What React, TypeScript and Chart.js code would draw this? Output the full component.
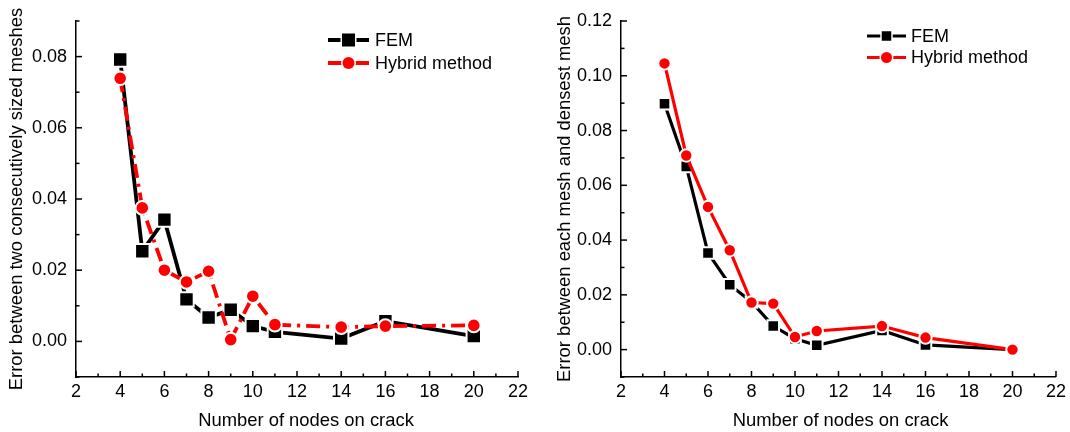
import React, { useEffect, useRef } from 'react';
import { Chart, registerables } from 'chart.js';

Chart.register(...registerables);

// ---------- data ----------
const nodes = [4, 5, 6, 7, 8, 9, 10, 11, 14, 16, 20];
const leftFem = [0.0792, 0.0253, 0.0342, 0.0118, 0.0067, 0.0089, 0.0043, 0.0027, 0.0008, 0.0057, 0.0015];
const leftHybrid = [0.0739, 0.0375, 0.02, 0.0167, 0.0197, 0.0005, 0.0127, 0.0047, 0.004, 0.0043, 0.0045];
const rightFem = [0.0898, 0.0669, 0.0353, 0.0237, 0.0174, 0.0086, 0.004, 0.0016, 0.007, 0.0017, 0.0];
const rightHybrid = [0.1045, 0.0709, 0.0521, 0.0363, 0.0172, 0.0168, 0.0046, 0.0068, 0.0086, 0.0044, 0.0];
const xTicks = [2, 4, 6, 8, 10, 12, 14, 16, 18, 20, 22];
const leftYTicks = [0, 0.02, 0.04, 0.06, 0.08];
const rightYTicks = [0, 0.02, 0.04, 0.06, 0.08, 0.1, 0.12];
const seriesNames = ['FEM', 'Hybrid method'];
const xTitle = 'Number of nodes on crack';
const leftYTitle = 'Error between two consecutively sized meshes';
const rightYTitle = 'Error between each mesh and densest mesh';

const FONT = '"Liberation Sans", Arial, Helvetica, sans-serif';

function minorList(majors: number[], min: number, max: number) {
  const out: number[] = [];
  const step = majors[1] - majors[0];
  const half = step / 2;
  for (let i = 0; i < majors.length - 1; i++) out.push(majors[i] + half);
  if (majors[0] - half >= min - 1e-9) out.push(majors[0] - half);
  if (majors[majors.length - 1] + half <= max + 1e-9) out.push(majors[majors.length - 1] + half);
  return out;
}

const decor = {
  id: 'decor',
  afterDraw(chart: any, _args: any, o: any) {
    const { ctx, chartArea, scales } = chart;
    const xs = scales.x;
    const ys = scales.y;
    ctx.save();
    ctx.strokeStyle = '#000';
    ctx.lineWidth = 1.5;
    // inward ticks
    const xMaj = xs.ticks.map((t: any) => t.value);
    const yMaj = ys.ticks.map((t: any) => t.value);
    const drawX = (v: number, len: number) => {
      const p = xs.getPixelForValue(v);
      ctx.beginPath();
      ctx.moveTo(p, chartArea.bottom);
      ctx.lineTo(p, chartArea.bottom - len);
      ctx.stroke();
    };
    const drawY = (v: number, len: number) => {
      const p = ys.getPixelForValue(v);
      ctx.beginPath();
      ctx.moveTo(chartArea.left, p);
      ctx.lineTo(chartArea.left + len, p);
      ctx.stroke();
    };
    xMaj.forEach((v: number) => drawX(v, 6));
    minorList(xMaj, xs.min, xs.max).forEach((v) => drawX(v, 3.5));
    yMaj.forEach((v: number) => drawY(v, 6));
    minorList(yMaj, ys.min, ys.max).forEach((v) => drawY(v, 3.5));

    // axis titles
    ctx.fillStyle = '#000';
    ctx.font = `18.4px ${FONT}`;
    ctx.textAlign = 'center';
    ctx.textBaseline = 'middle';
    ctx.fillText(o.xTitle, (chartArea.left + chartArea.right) / 2 + (o.xTitleShift || 0), o.xTitleY);
    ctx.save();
    ctx.translate(o.yTitleX, (chartArea.top + chartArea.bottom) / 2);
    ctx.rotate(-Math.PI / 2);
    ctx.fillText(o.yTitle, 0, 0);
    ctx.restore();

    // legend
    chart.data.datasets.forEach((ds: any, i: number) => {
      const y = o.legendY + i * o.legendGap;
      ctx.strokeStyle = ds.borderColor;
      ctx.lineWidth = ds.borderWidth;
      ctx.setLineDash([]);
      ctx.beginPath();
      ctx.moveTo(o.sampleX0, y);
      ctx.lineTo(o.sampleX1, y);
      ctx.stroke();
      const mx = (o.sampleX0 + o.sampleX1) / 2;
      ctx.fillStyle = ds.pointBackgroundColor;
      ctx.strokeStyle = '#fff';
      ctx.lineWidth = 3;
      ctx.beginPath();
      if (ds.pointStyle === 'rect') {
        const s = o.squareSide;
        ctx.rect(mx - s / 2, y - s / 2, s, s);
      } else {
        ctx.arc(mx, y, o.circleD / 2, 0, Math.PI * 2);
      }
      ctx.stroke();
      ctx.fill();
      ctx.fillStyle = '#000';
      ctx.font = `18px ${FONT}`;
      ctx.textAlign = 'left';
      ctx.textBaseline = 'middle';
      ctx.fillText(ds.label, o.textX, y + 1);
    });
    ctx.restore();
  },
};

function makeConfig(p: any) {
  return {
    type: 'line',
    data: {
      datasets: [
        {
          label: seriesNames[0],
          data: nodes.map((x, i) => ({ x, y: p.fem[i] })),
          borderColor: '#000000',
          backgroundColor: '#000000',
          pointBackgroundColor: '#000000',
          pointBorderColor: '#ffffff',
          pointBorderWidth: 2,
          pointStyle: 'rect',
          pointRadius: p.squareR,
          borderWidth: p.lineW,
          borderDash: [],
          tension: 0,
          order: 1,
          clip: false,
        },
        {
          label: seriesNames[1],
          data: nodes.map((x, i) => ({ x, y: p.hybrid[i] })),
          borderColor: '#ff0000',
          backgroundColor: '#ff0000',
          pointBackgroundColor: '#ff0000',
          pointBorderColor: '#ffffff',
          pointBorderWidth: 2,
          pointStyle: 'circle',
          pointRadius: p.circleR,
          borderWidth: p.lineW,
          borderDash: p.hybridDash,
          tension: 0,
          order: 0,
          clip: false,
        },
      ],
    },
    options: {
      animation: false,
      responsive: false,
      devicePixelRatio: 1,
      layout: { padding: { left: 0, right: p.padRight, top: p.padTop, bottom: 0 } },
      scales: {
        x: {
          type: 'linear',
          min: 2,
          max: 22,
          afterBuildTicks: (s: any) => {
            s.ticks = xTicks.map((v) => ({ value: v }));
          },
          afterFit: (s: any) => {
            s.height = p.xHeight;
          },
          ticks: {
            autoSkip: false,
            maxRotation: 0,
            padding: 4,
            color: '#000',
            font: { family: FONT, size: 18 },
            callback: (v: any) => String(v),
          },
          grid: { display: false, drawTicks: false, tickLength: 0 },
          border: { display: true, color: '#000', width: 1.5 },
        },
        y: {
          type: 'linear',
          min: -0.01,
          max: p.yMax,
          afterBuildTicks: (s: any) => {
            s.ticks = p.yTicks.map((v: number) => ({ value: v }));
          },
          afterFit: (s: any) => {
            s.width = p.yWidth;
          },
          ticks: {
            autoSkip: false,
            padding: 9,
            color: '#000',
            font: { family: FONT, size: 18 },
            callback: (v: any) => Number(v).toFixed(2),
          },
          grid: { display: false, drawTicks: false, tickLength: 0 },
          border: { display: true, color: '#000', width: 1.5 },
        },
      },
      plugins: {
        legend: { display: false },
        tooltip: { enabled: false },
        decor: {
          xTitle,
          yTitle: p.yTitle,
          xTitleY: 421,
          xTitleShift: p.xTitleShift,
          yTitleX: p.yTitleX,
          legendY: p.legendY,
          legendGap: p.legendGap,
          sampleX0: p.sampleX0,
          sampleX1: p.sampleX1,
          textX: p.textX,
          squareSide: p.legSquare,
          circleD: p.legCircle,
        },
      },
    },
    plugins: [decor],
  };
}

function Panel({ width, params }: { width: number; params: any }) {
  const ref = useRef<HTMLCanvasElement | null>(null);
  useEffect(() => {
    if (!ref.current) return;
    const chart = new Chart(ref.current, makeConfig(params) as any);
    return () => chart.destroy();
  }, []);
  return (
    <div style={{ width, height: 432, position: 'relative' }}>
      <canvas ref={ref} width={width} height={432} style={{ display: 'block', width, height: 432 }} />
    </div>
  );
}

const leftParams = {
  fem: leftFem,
  hybrid: leftHybrid,
  yMax: 0.09,
  yTicks: leftYTicks,
  yTitle: leftYTitle,
  yTitleX: 17,
  xTitleShift: 9,
  yWidth: 76,
  xHeight: 55,
  padRight: 22,
  padTop: 21,
  lineW: 3.8,
  squareR: 10.2,
  circleR: 6.8,
  hybridDash: [14, 6, 3, 6],
  legendY: 40,
  legendGap: 23,
  sampleX0: 328,
  sampleX1: 369,
  textX: 375,
  legSquare: 13,
  legCircle: 12,
};

const rightParams = {
  fem: rightFem,
  hybrid: rightHybrid,
  yMax: 0.12,
  yTicks: rightYTicks,
  yTitle: rightYTitle,
  yTitleX: 25,
  xTitleShift: 2,
  yWidth: 81,
  xHeight: 55,
  padRight: 11,
  padTop: 21,
  lineW: 3.2,
  squareR: 8.2,
  circleR: 6.2,
  hybridDash: [],
  legendY: 36,
  legendGap: 21.5,
  sampleX0: 327,
  sampleX1: 366,
  textX: 371,
  legSquare: 9.5,
  legCircle: 11,
};

export default function App() {
  return (
    <div
      style={{
        position: 'fixed',
        left: 0,
        top: 0,
        width: 1070,
        height: 432,
        background: '#fff',
        display: 'flex',
        flexDirection: 'row',
      }}
    >
      <Panel width={540} params={leftParams} />
      <Panel width={530} params={rightParams} />
    </div>
  );
}
